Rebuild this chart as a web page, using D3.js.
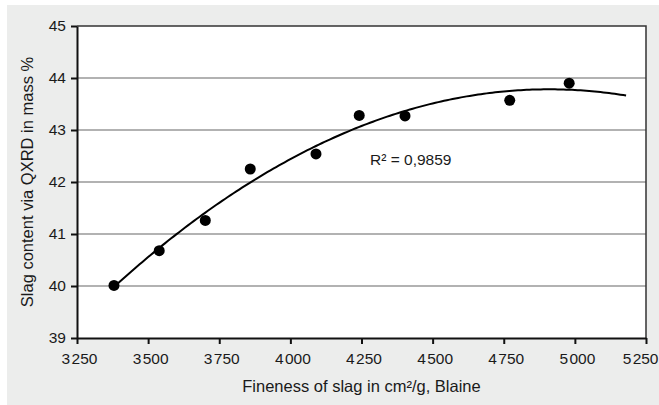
<!DOCTYPE html>
<head>
  <meta charset="utf-8">
  <script src="https://d3js.org/d3.v7.min.js"></script>
  <style>
    body { margin:0; background:#fff; }
    text { font-family: "Liberation Sans", Arial, sans-serif; fill:#1a1a1a; }
  </style>
</head>
<body>
<script>

/* Data */
/* ==== */

var fineness = [3380, 3539, 3701, 3859, 4090, 4242, 4403, 4771, 4980];
var slag     = [40.01, 40.68, 41.26, 42.25, 42.54, 43.28, 43.27, 43.57, 43.90];
var xTicks = [3250, 3500, 3750, 4000, 4250, 4500, 4750, 5000, 5250];
var yTicks = [39, 40, 41, 42, 43, 44, 45];
var trendRange = [3380, 5180];
var r2Label = "R\u00B2 = 0,9859";

var width = 659,
    height = 405,
    margin = { top: 26, right: 13, bottom: 67, left: 77 };

var svg = d3.select('body')
  .append('svg')
    .attr('width', width)
    .attr('height', height);

// grey panel
svg.append('rect')
    .attr('x', 7).attr('y', 5)
    .attr('width', width - 7).attr('height', height - 5)
    .attr('fill', '#ecedec');

var x = d3.scaleLinear().domain([3250, 5250]).range([margin.left, width - margin.right]);
var y = d3.scaleLinear().domain([39, 45]).range([height - margin.bottom, margin.top]);

// plot area
svg.append('rect')
    .attr('x', x(3250)).attr('y', y(45))
    .attr('width', x(5250) - x(3250)).attr('height', y(39) - y(45))
    .attr('fill', '#fff');

// gridlines
svg.selectAll('.grid')
    .data(yTicks.filter(function(d) { return d > 39 && d < 45; }))
    .enter().append('line')
    .attr('class', 'grid')
    .attr('x1', x(3250)).attr('x2', x(5250))
    .attr('y1', function(d) { return y(d); })
    .attr('y2', function(d) { return y(d); })
    .attr('stroke', '#999')
    .attr('stroke-width', 1.5);

// top and right border
svg.append('path')
    .attr('d', 'M' + x(3250) + ',' + y(45) + 'H' + x(5250) + 'V' + y(39))
    .attr('fill', 'none')
    .attr('stroke', '#333')
    .attr('stroke-width', 1.5);

function fmt(d) {
  var s = String(d);
  return s.charAt(0) + '\u200A' + s.slice(1);
}

var xAxis = svg.append('g')
    .attr('transform', 'translate(0,' + y(39) + ')')
    .call(d3.axisBottom(x).tickValues(xTicks).tickSize(6).tickSizeOuter(0).tickFormat(fmt));

var yAxis = svg.append('g')
    .attr('transform', 'translate(' + x(3250) + ',0)')
    .call(d3.axisLeft(y).tickValues(yTicks).tickSize(6).tickSizeOuter(0).tickFormat(d3.format('d')));

[xAxis, yAxis].forEach(function(a) {
  a.select('.domain').attr('stroke', '#111').attr('stroke-width', 2);
  a.selectAll('.tick line').attr('stroke', '#111').attr('stroke-width', 2);
  a.selectAll('.tick text').attr('font-size', 15.5).attr('fill', '#1a1a1a')
    .style('font-family', '"Liberation Sans", Arial, sans-serif');
});
xAxis.selectAll('.tick text').attr('y', 26).attr('dy', null).attr('x', 2);
// last label sits against the right edge
xAxis.selectAll('.tick text').filter(function(d) { return d === 5250; })
    .attr('text-anchor', 'end').attr('x', width - 1 - x(5250));
yAxis.selectAll('.tick text').attr('x', -11);

/* quadratic least squares trendline */
function polyfit2(xs, ys) {
  var n = xs.length, x0 = d3.mean(xs);
  var S = [[0,0,0],[0,0,0],[0,0,0]], b = [0,0,0];
  for (var i = 0; i < n; i++) {
    var t = xs[i] - x0, p = [1, t, t*t];
    for (var r = 0; r < 3; r++) {
      b[r] += p[r] * ys[i];
      for (var c = 0; c < 3; c++) S[r][c] += p[r] * p[c];
    }
  }
  // gaussian elimination
  for (var k = 0; k < 3; k++) {
    for (var r2 = k + 1; r2 < 3; r2++) {
      var f = S[r2][k] / S[k][k];
      for (var c2 = k; c2 < 3; c2++) S[r2][c2] -= f * S[k][c2];
      b[r2] -= f * b[k];
    }
  }
  var coef = [0,0,0];
  for (var k2 = 2; k2 >= 0; k2--) {
    var s = b[k2];
    for (var c3 = k2 + 1; c3 < 3; c3++) s -= S[k2][c3] * coef[c3];
    coef[k2] = s / S[k2][k2];
  }
  return function(v) { var t = v - x0; return coef[0] + coef[1]*t + coef[2]*t*t; };
}

var fit = polyfit2(fineness, slag);
var trend = d3.range(trendRange[0], trendRange[1] + 1, 10);

svg.append('path')
    .datum(trend)
    .attr('d', d3.line().x(function(d) { return x(d); }).y(function(d) { return y(fit(d)); }))
    .attr('fill', 'none')
    .attr('stroke', '#000')
    .attr('stroke-width', 2);

svg.selectAll('.dot')
    .data(fineness)
    .enter().append('circle')
    .attr('class', 'dot')
    .attr('cx', function(d) { return x(d); })
    .attr('cy', function(d, i) { return y(slag[i]); })
    .attr('r', 5.5)
    .attr('fill', '#000');

svg.append('text')
    .attr('x', 370).attr('y', 165)
    .attr('font-size', 15.5)
    .text(r2Label);

svg.append('text')
    .attr('x', (x(3250) + x(5250)) / 2).attr('y', 392)
    .attr('text-anchor', 'middle')
    .attr('font-size', 16.5)
    .text('Fineness of slag in cm\u00B2/g, Blaine');

svg.append('text')
    .attr('transform', 'translate(33,' + (y(39) + y(45)) / 2 + ') rotate(-90)')
    .attr('text-anchor', 'middle')
    .attr('font-size', 16.5)
    .text('Slag content via QXRD in mass %');

</script>
</body>
